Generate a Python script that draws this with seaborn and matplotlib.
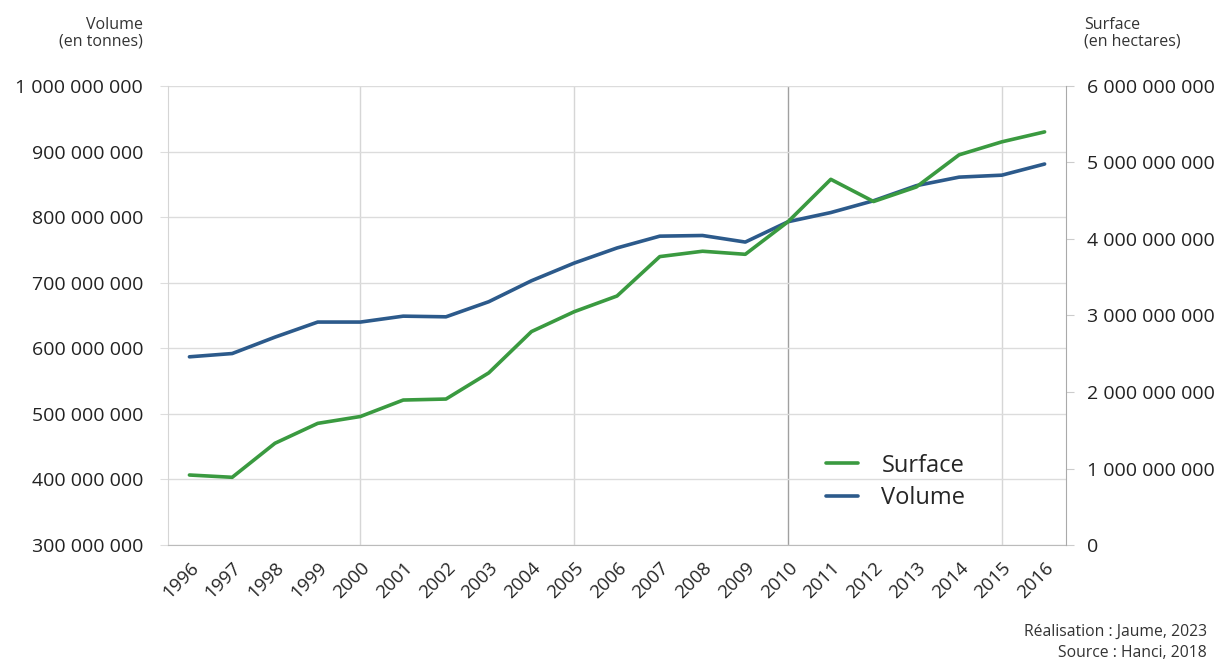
import pandas as pd
import seaborn as sns
import matplotlib.pyplot as plt
from matplotlib.ticker import FuncFormatter

# values
years = list(range(1996, 2017))
volume_t = [587e6, 592e6, 617e6, 640e6, 640e6, 649e6, 648e6, 671e6, 703e6, 730e6, 753e6,
            771e6, 772e6, 762e6, 793e6, 807e6, 825e6, 848e6, 861e6, 864e6, 881e6]
surface_ha = [0.915e9, 0.885e9, 1.33e9, 1.59e9, 1.68e9, 1.895e9, 1.908e9, 2.25e9, 2.79e9, 3.05e9, 3.255e9,
              3.77e9, 3.84e9, 3.80e9, 4.226e9, 4.78e9, 4.49e9, 4.68e9, 5.10e9, 5.27e9, 5.40e9]
left_ticks = [300e6, 400e6, 500e6, 600e6, 700e6, 800e6, 900e6, 1000e6]
right_ticks = [0, 1e9, 2e9, 3e9, 4e9, 5e9, 6e9]
grid_years = [2000, 2005, 2015]
dark_grid_year = 2010

df = pd.DataFrame({"year": years, "Volume": volume_t, "Surface": surface_ha})

GREEN = "#3a9a40"
BLUE = "#2c5a8b"

sns.set_style("white")
plt.rcParams["font.family"] = ["Open Sans", "DejaVu Sans"]

fig = plt.figure(figsize=(12.24, 6.64), dpi=100)
ax = fig.add_axes([0.1373, 0.1792, 0.7336, 0.6913])
ax2 = ax.twinx()

sns.lineplot(data=df, x="year", y="Volume", ax=ax, color=BLUE, linewidth=2.6, label="Volume")
sns.lineplot(data=df, x="year", y="Surface", ax=ax2, color=GREEN, linewidth=2.6, label="Surface")

fmt = FuncFormatter(lambda v, p: f"{int(round(v)):,}".replace(",", " "))

ax.set_xlim(1995.5, 2016.5)
ax.set_ylim(300e6, 1000e6)
ax.set_yticks(left_ticks)
ax.yaxis.set_major_formatter(fmt)
ax2.set_ylim(0, 6e9)
ax2.set_yticks(right_ticks)
ax2.yaxis.set_major_formatter(fmt)

ax.set_xticks(years)
ax.set_xticklabels([str(y) for y in years], rotation=45, ha="right", rotation_mode="anchor", fontsize=13.5)
ax.tick_params(axis="x", which="major", length=5, color="#bbbbbb", pad=5)
ax.tick_params(axis="y", length=6, color="#dddddd", labelsize=14, pad=12, labelcolor="#222222")
ax2.tick_params(axis="y", length=6, color="#cccccc", labelsize=14, pad=9, labelcolor="#222222")

ax.grid(axis="y", which="major", color="#dcdcdc", linewidth=1)
ax.grid(axis="x", visible=False)
# vertical guides every five years, the 2010 one darker as in the original
for yr in grid_years:
    ax.axvline(yr, color="#d6d6d6", linewidth=1, zorder=0.5)
ax.axvline(dark_grid_year, color="#a0a0a0", linewidth=1, zorder=0.5)

for a in (ax, ax2):
    a.set_xlabel("")
    a.set_ylabel("")
    a.spines["top"].set_visible(False)
ax.spines["left"].set_color("#d5d5d5")
ax.spines["bottom"].set_color("#bbbbbb")
ax.spines["right"].set_visible(False)
ax2.spines["left"].set_visible(False)
ax2.spines["bottom"].set_visible(False)
ax2.spines["right"].set_color("#aaaaaa")

ax.get_legend().remove()
h2, l2 = ax2.get_legend_handles_labels()
h1, l1 = ax.get_legend_handles_labels()
ax2.legend(h2 + h1, l2 + l1, loc="lower left", bbox_to_anchor=(0.709, 0.03),
           frameon=False, fontsize=17, handlelength=1.35, handletextpad=1.0, labelspacing=0.35)

fig.text(0.117, 0.925, "Volume\n(en tonnes)", ha="right", va="bottom", fontsize=11.5, color="#333333", linespacing=1.05)
fig.text(0.886, 0.925, "Surface\n(en hectares)", ha="left", va="bottom", fontsize=11.5, color="#333333", linespacing=1.05)
fig.text(0.986, 0.004, "Réalisation : Jaume, 2023\nSource : Hanci, 2018", ha="right", va="bottom",
         fontsize=11.3, color="#333333", multialignment="right", linespacing=1.45)

plt.savefig("out.png", dpi=100)
